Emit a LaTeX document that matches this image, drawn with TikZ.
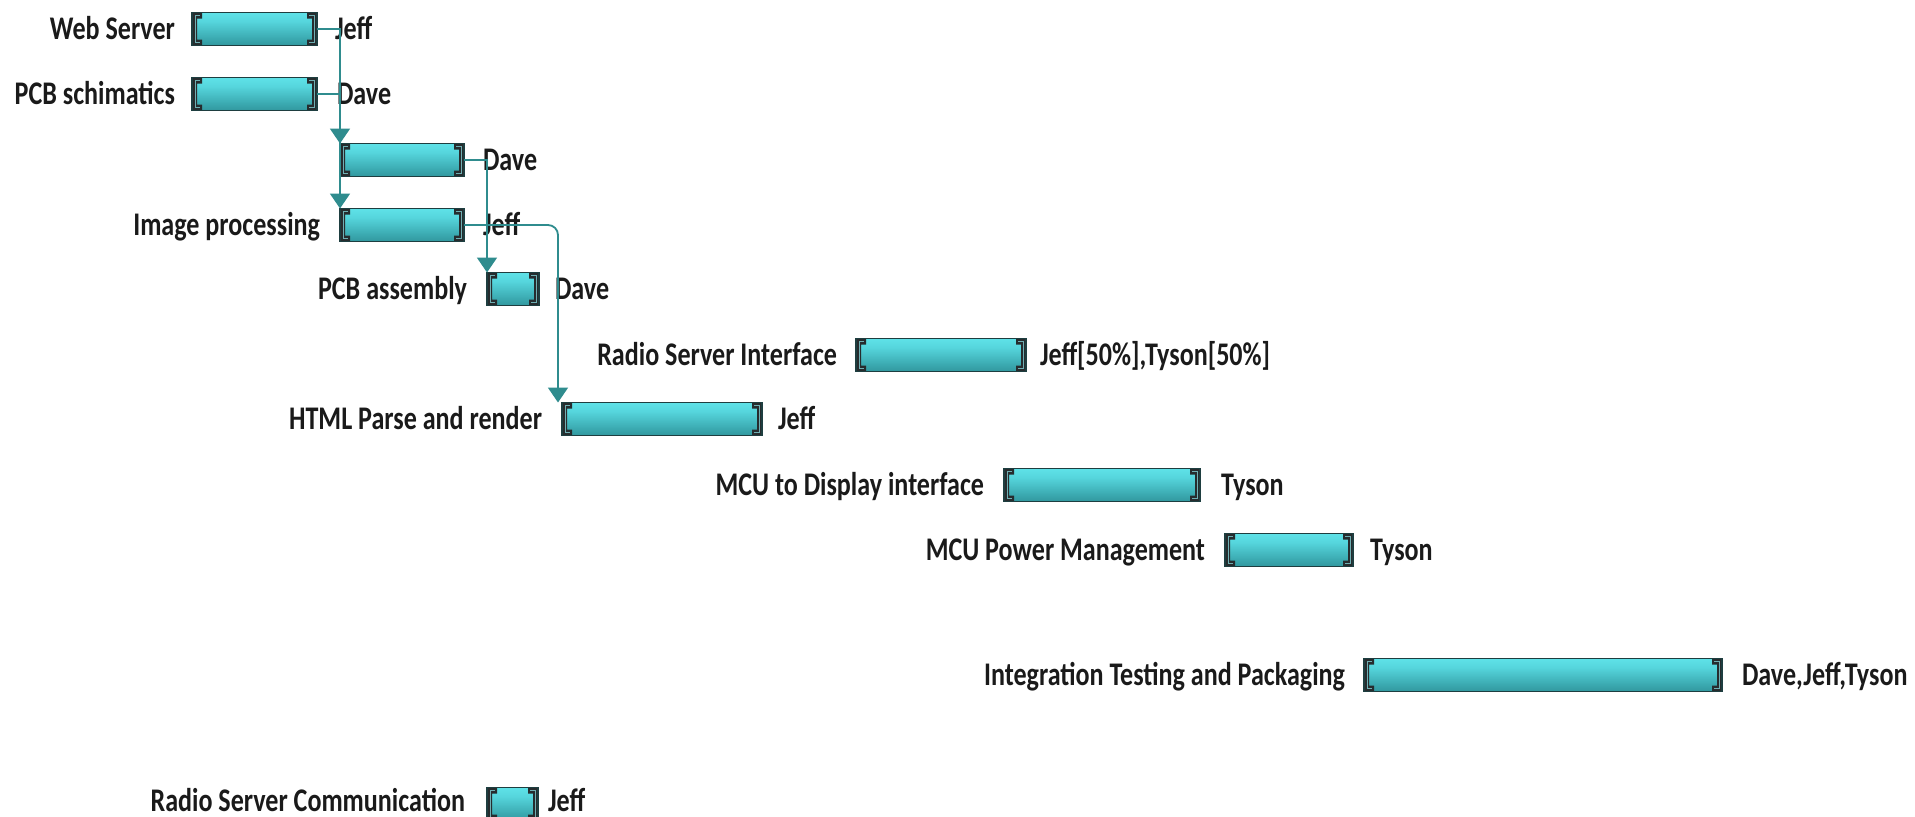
\documentclass[tikz,border=0pt]{standalone}
\usepackage{fontspec}
\setmainfont{Carlito}
\usepackage{graphicx}
\usetikzlibrary{arrows.meta}
\definecolor{txt}{HTML}{1A1A1A}
\definecolor{conn}{HTML}{2F8C8E}
\definecolor{cyanA}{HTML}{62E6EC}
\definecolor{cyanB}{HTML}{56D6DD}
\definecolor{cyanC}{HTML}{3AA8AF}
\definecolor{tealC}{HTML}{1C6E74}
\definecolor{brk}{HTML}{262C2E}
\definecolor{brkhl}{HTML}{6FAFB3}
\definecolor{barline}{HTML}{1E3E40}
\pgfdeclareverticalshading{barshade}{100bp}{color(0bp)=(tealC); color(35bp)=(cyanC); color(62bp)=(cyanB); color(80bp)=(cyanA); color(100bp)=(cyanA)}
\newcommand{\sq}[1]{\scalebox{0.79}[1]{#1}}
\newcommand{\gbar}[4]{\node[ganttbar, minimum width={(#3-#2)*0.5pt}] (#1) at ({(#2+#3)/2},#4) {};}
\tikzset{
  ganttbar/.style={draw=barline, line width=0.8pt, shading=barshade,
    minimum height=16.5pt, inner sep=0pt, outer sep=0pt,
    path picture={
      \fill[brk] (path picture bounding box.north west) -- ++(10,0) -- ++(0,6) -- ++(-5,0) -- ++(0,21) -- ++(5,0) -- ++(0,6) -- ++(-10,0) -- cycle;
      \fill[brk] (path picture bounding box.north east) -- ++(-10,0) -- ++(0,6) -- ++(5,0) -- ++(0,21) -- ++(-5,0) -- ++(0,6) -- ++(10,0) -- cycle;
      \draw[brkhl, line width=0.5pt] ([shift={(8,3)}]path picture bounding box.north west) -- ++(-5,0) -- ++(0,27) -- ++(5,0);
      \draw[brkhl, line width=0.5pt] ([shift={(-8,3)}]path picture bounding box.north east) -- ++(5,0) -- ++(0,27) -- ++(-5,0);
    }},
  lbl/.style={inner sep=0pt, outer sep=0pt, text=txt, font=\fontsize{16.5}{19}\selectfont\bfseries},
  connector/.style={draw=conn, line width=0.9pt, -{Triangle[width=10pt,length=7.5pt,fill=conn]}}
}
\begin{document}
\begin{tikzpicture}[x=0.5pt,y=-0.5pt]
\clip (0,0) rectangle (1915,816);
\fill[white] (0,0) rectangle (1915,816);
% bars
\gbar{ws}{192}{317}{29}
\gbar{pcbs}{192}{317}{94}
\gbar{b3}{340}{464}{160}
\gbar{ip}{340}{464}{225}
\gbar{pcba}{487}{539}{289}
\gbar{rsi}{856}{1026}{355}
\gbar{html}{562}{762}{419}
\gbar{mcud}{1004}{1200}{485}
\gbar{mcup}{1225}{1353}{550}
\gbar{itp}{1364}{1722}{675}
\gbar{rsc}{487}{538}{804}
% task names
\node[lbl, anchor=base east] (wsl) at (175,39) {\sq{Web Server}};
\node[lbl, anchor=base east] (pcbsl) at (175,104) {\sq{PCB schimatics}};
\node[lbl, anchor=base east] (ipl) at (320,235) {\sq{Image processing}};
\node[lbl, anchor=base east] (pcbal) at (467,299) {\sq{PCB assembly}};
\node[lbl, anchor=base east] (rsil) at (837,365) {\sq{Radio Server Interface}};
\node[lbl, anchor=base east] (htmll) at (542,429) {\sq{HTML Parse and render}};
\node[lbl, anchor=base east] (mcudl) at (984,495) {\sq{MCU to Display interface}};
\node[lbl, anchor=base east] (mcupl) at (1205,560) {\sq{MCU Power Management}};
\node[lbl, anchor=base east] (itpl) at (1345,685) {\sq{Integration Testing and Packaging}};
\node[lbl, anchor=base east] (rscl) at (465,811) {\sq{Radio Server Communication}};
% resources
\node[lbl, anchor=base west] (wsr) at (335,39) {\sq{Jeff}};
\node[lbl, anchor=base west] (pcbsr) at (337,104) {\sq{Dave}};
\node[lbl, anchor=base west] (b3r) at (483,170) {\sq{Dave}};
\node[lbl, anchor=base west] (ipr) at (483,235) {\sq{Jeff}};
\node[lbl, anchor=base west] (pcbar) at (555,299) {\sq{Dave}};
\node[lbl, anchor=base west] (rsir) at (1040,365) {\sq{Jeff[50\%],Tyson[50\%]}};
\node[lbl, anchor=base west] (htmlr) at (778,429) {\sq{Jeff}};
\node[lbl, anchor=base west] (mcudr) at (1221,495) {\sq{Tyson}};
\node[lbl, anchor=base west] (mcupr) at (1370,560) {\sq{Tyson}};
\node[lbl, anchor=base west] (itpr) at (1742,685) {\sq{Dave,Jeff,Tyson}};
\node[lbl, anchor=base west] (rscr) at (548,811) {\sq{Jeff}};
% dependencies
\draw[connector] (ws.east) -| (b3.north west);
\draw[connector] (pcbs.east) -| (ip.north west);
\draw[connector] (b3.east) -| (pcba.north west);
\draw[connector, rounded corners=5] (ip.east) -| ([xshift=-2]html.north west);
\end{tikzpicture}
\end{document}
